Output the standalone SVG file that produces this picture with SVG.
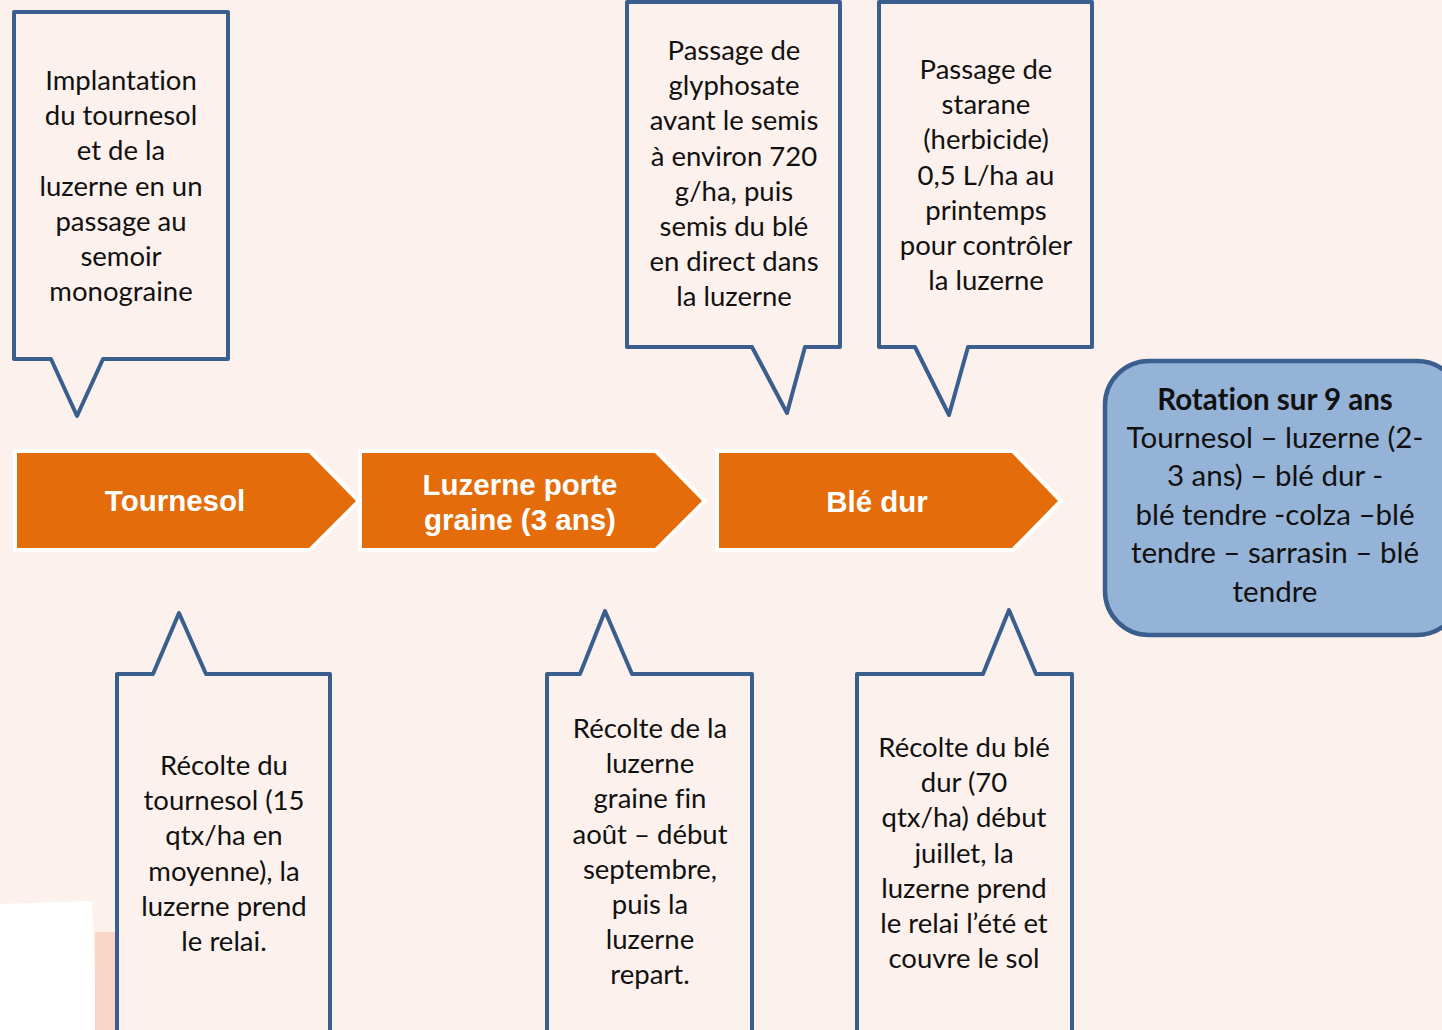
<svg xmlns="http://www.w3.org/2000/svg" width="1442" height="1030" viewBox="0 0 1442 1030">
<defs>
<style>
.bg{fill:#FDF1ED}
.callout{fill:#FDF1ED;stroke:#3A5F8E;stroke-width:4;stroke-linejoin:round}
.step{fill:#E46C0A;stroke:#FFFFFF;stroke-width:8;paint-order:stroke;stroke-linejoin:miter}
.t{font-family:Lato,"Liberation Sans",sans-serif;font-size:27.5px;fill:#111111;text-anchor:middle;font-variant-ligatures:none;font-feature-settings:"liga" 0,"dlig" 0}
.s{font-family:"Liberation Sans",Arial,sans-serif;font-weight:bold;font-size:29.5px;fill:#FFFFFF;text-anchor:middle}
.r{font-family:Lato,"Liberation Sans",sans-serif;font-size:29.5px;fill:#111111;text-anchor:middle;font-variant-ligatures:none;font-feature-settings:"liga" 0}
.rb{font-weight:bold}
.rot{fill:#95B3D7;stroke:#3A5F8E;stroke-width:4.5}
</style>
</defs>
<rect class="bg" x="0" y="0" width="1442" height="1030"/>
<polygon points="0,904 92,901 97,1030 0,1030" fill="#FFFFFF"/>
<rect x="95" y="932" width="30" height="98" fill="#F9D5C8"/>

<g id="connectors"></g>

<g id="step-tournesol">
<polygon class="step" points="17,453 309,453 356,501 309,548 17,548"/>
<text class="s" x="175" y="511">Tournesol</text>
</g>
<g id="step-luzerne">
<polygon class="step" points="362,453 655,453 702,501 655,548 362,548"/>
<text class="s" x="520" y="495">Luzerne porte</text>
<text class="s" x="520" y="530">graine (3 ans)</text>
</g>
<g id="step-ble">
<polygon class="step" points="719,453 1012,453 1058,501 1012,548 719,548"/>
<text class="s" x="877" y="512">Blé dur</text>
</g>

<g id="callout-implantation">
<path class="callout" d="M14,12 H228 V359 H103 L77,416 L51,359 H14 Z"/>
<text class="t" x="121" y="90">Implantation</text>
<text class="t" x="121" y="125.2">du tournesol</text>
<text class="t" x="121" y="160.4">et de la</text>
<text class="t" x="121" y="195.6">luzerne en un</text>
<text class="t" x="121" y="230.8">passage au</text>
<text class="t" x="121" y="266">semoir</text>
<text class="t" x="121" y="301.2">monograine</text>
</g>

<g id="callout-glyphosate">
<path class="callout" d="M627,2 H840 V347 H805 L787,413 L752,347 H627 Z"/>
<text class="t" x="734" y="60">Passage de</text>
<text class="t" x="734" y="95.2">glyphosate</text>
<text class="t" x="734" y="130.4">avant le semis</text>
<text class="t" x="734" y="165.6">à environ 720</text>
<text class="t" x="734" y="200.8">g/ha, puis</text>
<text class="t" x="734" y="236">semis du blé</text>
<text class="t" x="734" y="271.2">en direct dans</text>
<text class="t" x="734" y="306.4">la luzerne</text>
</g>

<g id="callout-starane">
<path class="callout" d="M879,2 H1092 V347 H968 L949,415 L915,347 H879 Z"/>
<text class="t" x="986" y="79">Passage de</text>
<text class="t" x="986" y="114.2">starane</text>
<text class="t" x="986" y="149.4">(herbicide)</text>
<text class="t" x="986" y="184.6">0,5 L/ha au</text>
<text class="t" x="986" y="219.8">printemps</text>
<text class="t" x="986" y="255">pour contrôler</text>
<text class="t" x="986" y="290.2">la luzerne</text>
</g>

<g id="callout-recolte-tournesol">
<path class="callout" d="M117,1040 V674 H153 L179,613 L206,674 H330 V1040"/>
<text class="t" x="224" y="775">Récolte du</text>
<text class="t" x="224" y="810.2">tournesol (15</text>
<text class="t" x="224" y="845.4">qtx/ha en</text>
<text class="t" x="224" y="880.6">moyenne), la</text>
<text class="t" x="224" y="915.8">luzerne prend</text>
<text class="t" x="224" y="951">le relai.</text>
</g>

<g id="callout-recolte-luzerne">
<path class="callout" d="M547,1040 V674 H580 L605,611 L632,674 H752 V1040"/>
<text class="t" x="650" y="738">Récolte de la</text>
<text class="t" x="650" y="773.2">luzerne</text>
<text class="t" x="650" y="808.4">graine fin</text>
<text class="t" x="650" y="843.6">août – début</text>
<text class="t" x="650" y="878.8">septembre,</text>
<text class="t" x="650" y="914">puis la</text>
<text class="t" x="650" y="949.2">luzerne</text>
<text class="t" x="650" y="984.4">repart.</text>
</g>

<g id="callout-recolte-ble">
<path class="callout" d="M857,1040 V674 H983 L1009,610 L1036,674 H1072 V1040"/>
<text class="t" x="964" y="757">Récolte du blé</text>
<text class="t" x="964" y="792.2">dur (70</text>
<text class="t" x="964" y="827.4">qtx/ha) début</text>
<text class="t" x="964" y="862.6">juillet, la</text>
<text class="t" x="964" y="897.8">luzerne prend</text>
<text class="t" x="964" y="933">le relai l’été et</text>
<text class="t" x="964" y="968.2">couvre le sol</text>
</g>

<g id="rotation">
<rect class="rot" x="1105" y="361" width="356" height="274" rx="44" ry="44"/>
<text class="r rb" x="1275" y="410">Rotation sur 9 ans</text>
<text class="r" x="1275" y="448">Tournesol – luzerne (2-</text>
<text class="r" x="1275" y="486.4">3 ans) – blé dur -</text>
<text class="r" x="1275" y="524.8">blé tendre -colza –blé</text>
<text class="r" x="1275" y="563.2">tendre – sarrasin – blé</text>
<text class="r" x="1275" y="601.6">tendre</text>
</g>
</svg>
